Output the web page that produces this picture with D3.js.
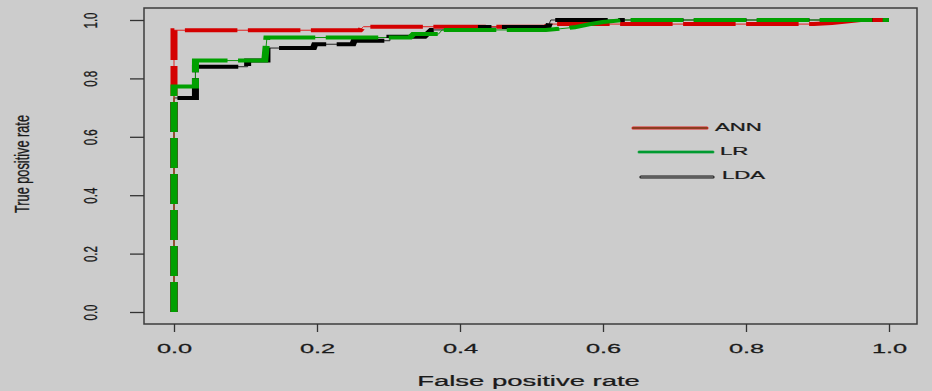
<!DOCTYPE html>
<html>
<head>
<meta charset="utf-8">
<script src="https://cdn.jsdelivr.net/npm/d3@7"></script>
<style>
  body { margin: 0; background: #cccccc; }
  svg { display: block; font-family: "Liberation Sans", Arial, sans-serif; }
  text { stroke: #1a1a1a; stroke-width: 0.25px; }
</style>
</head>
<body>
<script>
// tick values
const xTicks = [0, 0.2, 0.4, 0.6, 0.8, 1.0];
const yTicks = [0, 0.2, 0.4, 0.6, 0.8, 1.0];

// ROC curves (false positive rate, true positive rate)
const annFpr = [0, 0, 0.26, 0.265, 0.52, 0.525, 0.895, 0.92, 0.94, 0.96, 1];
const annTpr = [0, 0.965, 0.965, 0.977, 0.977, 0.986, 0.986, 0.99, 0.995, 1, 1];

const lrFpr = [0, 0, 0.03, 0.03, 0.127, 0.13, 0.33, 0.335, 0.37, 0.375, 0.52, 0.54, 0.56, 0.58, 0.6, 0.63, 1];
const lrTpr = [0, 0.772, 0.772, 0.861, 0.861, 0.94, 0.94, 0.952, 0.952, 0.966, 0.966, 0.97, 0.975, 0.985, 0.993, 1, 1];

const ldaFpr = [0, 0, 0.03, 0.03, 0.103, 0.103, 0.13, 0.13, 0.195, 0.197, 0.25, 0.252, 0.302, 0.302, 0.35, 0.36, 0.43, 0.43, 0.523, 0.527, 1];
const ldaTpr = [0, 0.733, 0.733, 0.84, 0.84, 0.861, 0.861, 0.904, 0.904, 0.917, 0.917, 0.929, 0.929, 0.943, 0.943, 0.966, 0.966, 0.976, 0.976, 1, 1];

const seriesNames = ["ANN", "LR", "LDA"];

const W = 932, H = 391;
const box = { l: 144, r: 917, t: 8, b: 324 };
const KX = 1.75; // the picture was stretched sideways, strokes too
const DASH = 30, GAP = 6;

const curves = [
  { name: "ANN", color: "#d40000", thin: "#e02020", fpr: annFpr, tpr: annTpr },
  { name: "LDA", color: "#000000", thin: "#222222", fpr: ldaFpr, tpr: ldaTpr },
  { name: "LR", color: "#00a000", thin: "#109010", fpr: lrFpr, tpr: lrTpr }
];

const svg = d3.select("body").append("svg")
  .attr("width", W)
  .attr("height", H);

const x = d3.scaleLinear().domain([0, 1]).range([174, 889]);
const y = d3.scaleLinear().domain([0, 1]).range([312, 20]);
const xs = d3.scaleLinear().domain([0, 1]).range([174 / KX, 889 / KX]);

// thin solid lines under the dashes
const thinLine = d3.line().x(d => x(d[0])).y(d => y(d[1]));
const gThin = svg.append("g");
["LDA", "LR", "ANN"].forEach(n => {
  const c = curves.find(c => c.name === n);
  gThin.append("path")
    .datum(c.fpr.map((f, i) => [f, c.tpr[i]]))
    .attr("d", thinLine)
    .attr("fill", "none")
    .attr("stroke", c.thin)
    .attr("stroke-width", 1);
});

// thick dashed lines, drawn in a stretched group
const thickLine = d3.line().x(d => xs(d[0])).y(d => y(d[1]));
const gThick = svg.append("g").attr("transform", `scale(${KX},1)`);
const paths = {};
curves.forEach(c => {
  paths[c.name] = gThick.append("path")
    .datum(c.fpr.map((f, i) => [f, c.tpr[i]]))
    .attr("d", thickLine)
    .attr("fill", "none")
    .attr("stroke", c.color)
    .attr("stroke-width", 4)
    .attr("stroke-dasharray", `${DASH} ${GAP}`)
    .attr("stroke-linecap", "butt")
    .attr("stroke-linejoin", "miter");
});

// LDA dashes: keep in phase with LR at the origin, then re-phase so that
// they hide under the LR dashes where both run along tpr = 1
{
  const lb = paths.LDA.node().getTotalLength();
  const lg = paths.LR.node().getTotalLength();
  const shared = xs(1) - xs(lrFpr[lrFpr.length - 2]);
  const split = lb - shared;
  const per = DASH + GAP;
  const off = ((lg - lb) % per + per) % per;
  const on = s => s < split ? (s % per) < DASH : (((s + off) % per) < DASH);
  const runs = [];
  let cur = true, len = 0, step = 0.25;
  for (let s = 0; s < lb + per; s += step) {
    const v = on(s);
    if (v === cur) len += step;
    else { runs.push(len); cur = v; len = step; }
  }
  runs.push(len);
  if (runs.length % 2) runs.push(0);
  paths.LDA.attr("stroke-dasharray", runs.map(r => r.toFixed(2)).join(" "));
}

// plot box
svg.append("rect")
  .attr("x", box.l).attr("y", box.t)
  .attr("width", box.r - box.l).attr("height", box.b - box.t)
  .attr("fill", "none")
  .attr("stroke", "#3c3c3c")
  .attr("stroke-width", 1.5);

// x axis
svg.append("g")
  .attr("transform", `translate(0,${box.b})`)
  .call(d3.axisBottom(x).tickValues(xTicks).tickFormat(d3.format(".1f")).tickSize(8).tickSizeOuter(0))
  .attr("font-size", null).attr("font-family", null)
  .call(g => g.select(".domain").remove())
  .call(g => g.selectAll(".tick line").attr("stroke", "#333").attr("stroke-width", 1.3))
  .call(g => g.selectAll(".tick text")
    .attr("y", 0).attr("dy", null)
    .attr("transform", "translate(0,29) scale(1.95,1)")
    .attr("font-size", 13)
    .attr("fill", "#1a1a1a"));

// y axis
svg.append("g")
  .attr("transform", `translate(${box.l},0)`)
  .call(d3.axisLeft(y).tickValues(yTicks).tickFormat(d3.format(".1f")).tickSize(14).tickSizeOuter(0))
  .attr("font-size", null).attr("font-family", null)
  .call(g => g.select(".domain").remove())
  .call(g => g.selectAll(".tick line").attr("stroke", "#333").attr("stroke-width", 1.3))
  .call(g => g.selectAll(".tick text")
    .attr("x", 0).attr("dy", null)
    .attr("text-anchor", "middle")
    .attr("transform", "translate(-47,0) rotate(-90) scale(0.85,1.35)")
    .attr("font-size", 13.5)
    .attr("fill", "#1a1a1a"));

// axis titles
svg.append("text")
  .attr("transform", "translate(528.5,385.5) scale(1.83,1)")
  .attr("text-anchor", "middle")
  .attr("font-size", 15)
  .attr("fill", "#1a1a1a")
  .text("False positive rate");

svg.append("text")
  .attr("transform", "translate(28.5,164) rotate(-90) scale(0.85,1.3)")
  .attr("text-anchor", "middle")
  .attr("font-size", 15)
  .attr("fill", "#1a1a1a")
  .text("True positive rate");

// legend (entries sit a little ragged in the original)
const legendPos = [
  { x1: 633, x2: 707, y: 128, tx: 715, ty: 131 },
  { x1: 639, x2: 713, y: 152, tx: 720, ty: 154.5 },
  { x1: 641, x2: 713, y: 177, tx: 722, ty: 178.5 }
];
const legendStyle = {
  ANN: [{ c: "#e02020", w: 3 }, { c: "#3a5a20", w: 1.2 }],
  LR: [{ c: "#3aaa5a", w: 3 }, { c: "#009a30", w: 1.8 }],
  LDA: [{ c: "#111", w: 3.2 }, { c: "#777", w: 1.3 }]
};
const gLeg = svg.append("g");
seriesNames.forEach((n, i) => {
  const p = legendPos[i];
  legendStyle[n].forEach(s => {
    gLeg.append("line")
      .attr("x1", p.x1).attr("x2", p.x2)
      .attr("y1", p.y).attr("y2", p.y)
      .attr("stroke", s.c)
      .attr("stroke-width", s.w)
      .attr("stroke-linecap", "round");
  });
  gLeg.append("text")
    .attr("transform", `translate(${p.tx},${p.ty}) scale(1.93,1)`)
    .attr("font-size", 11.5)
    .attr("fill", "#1a1a1a")
    .text(n);
});
</script>
</body>
</html>
